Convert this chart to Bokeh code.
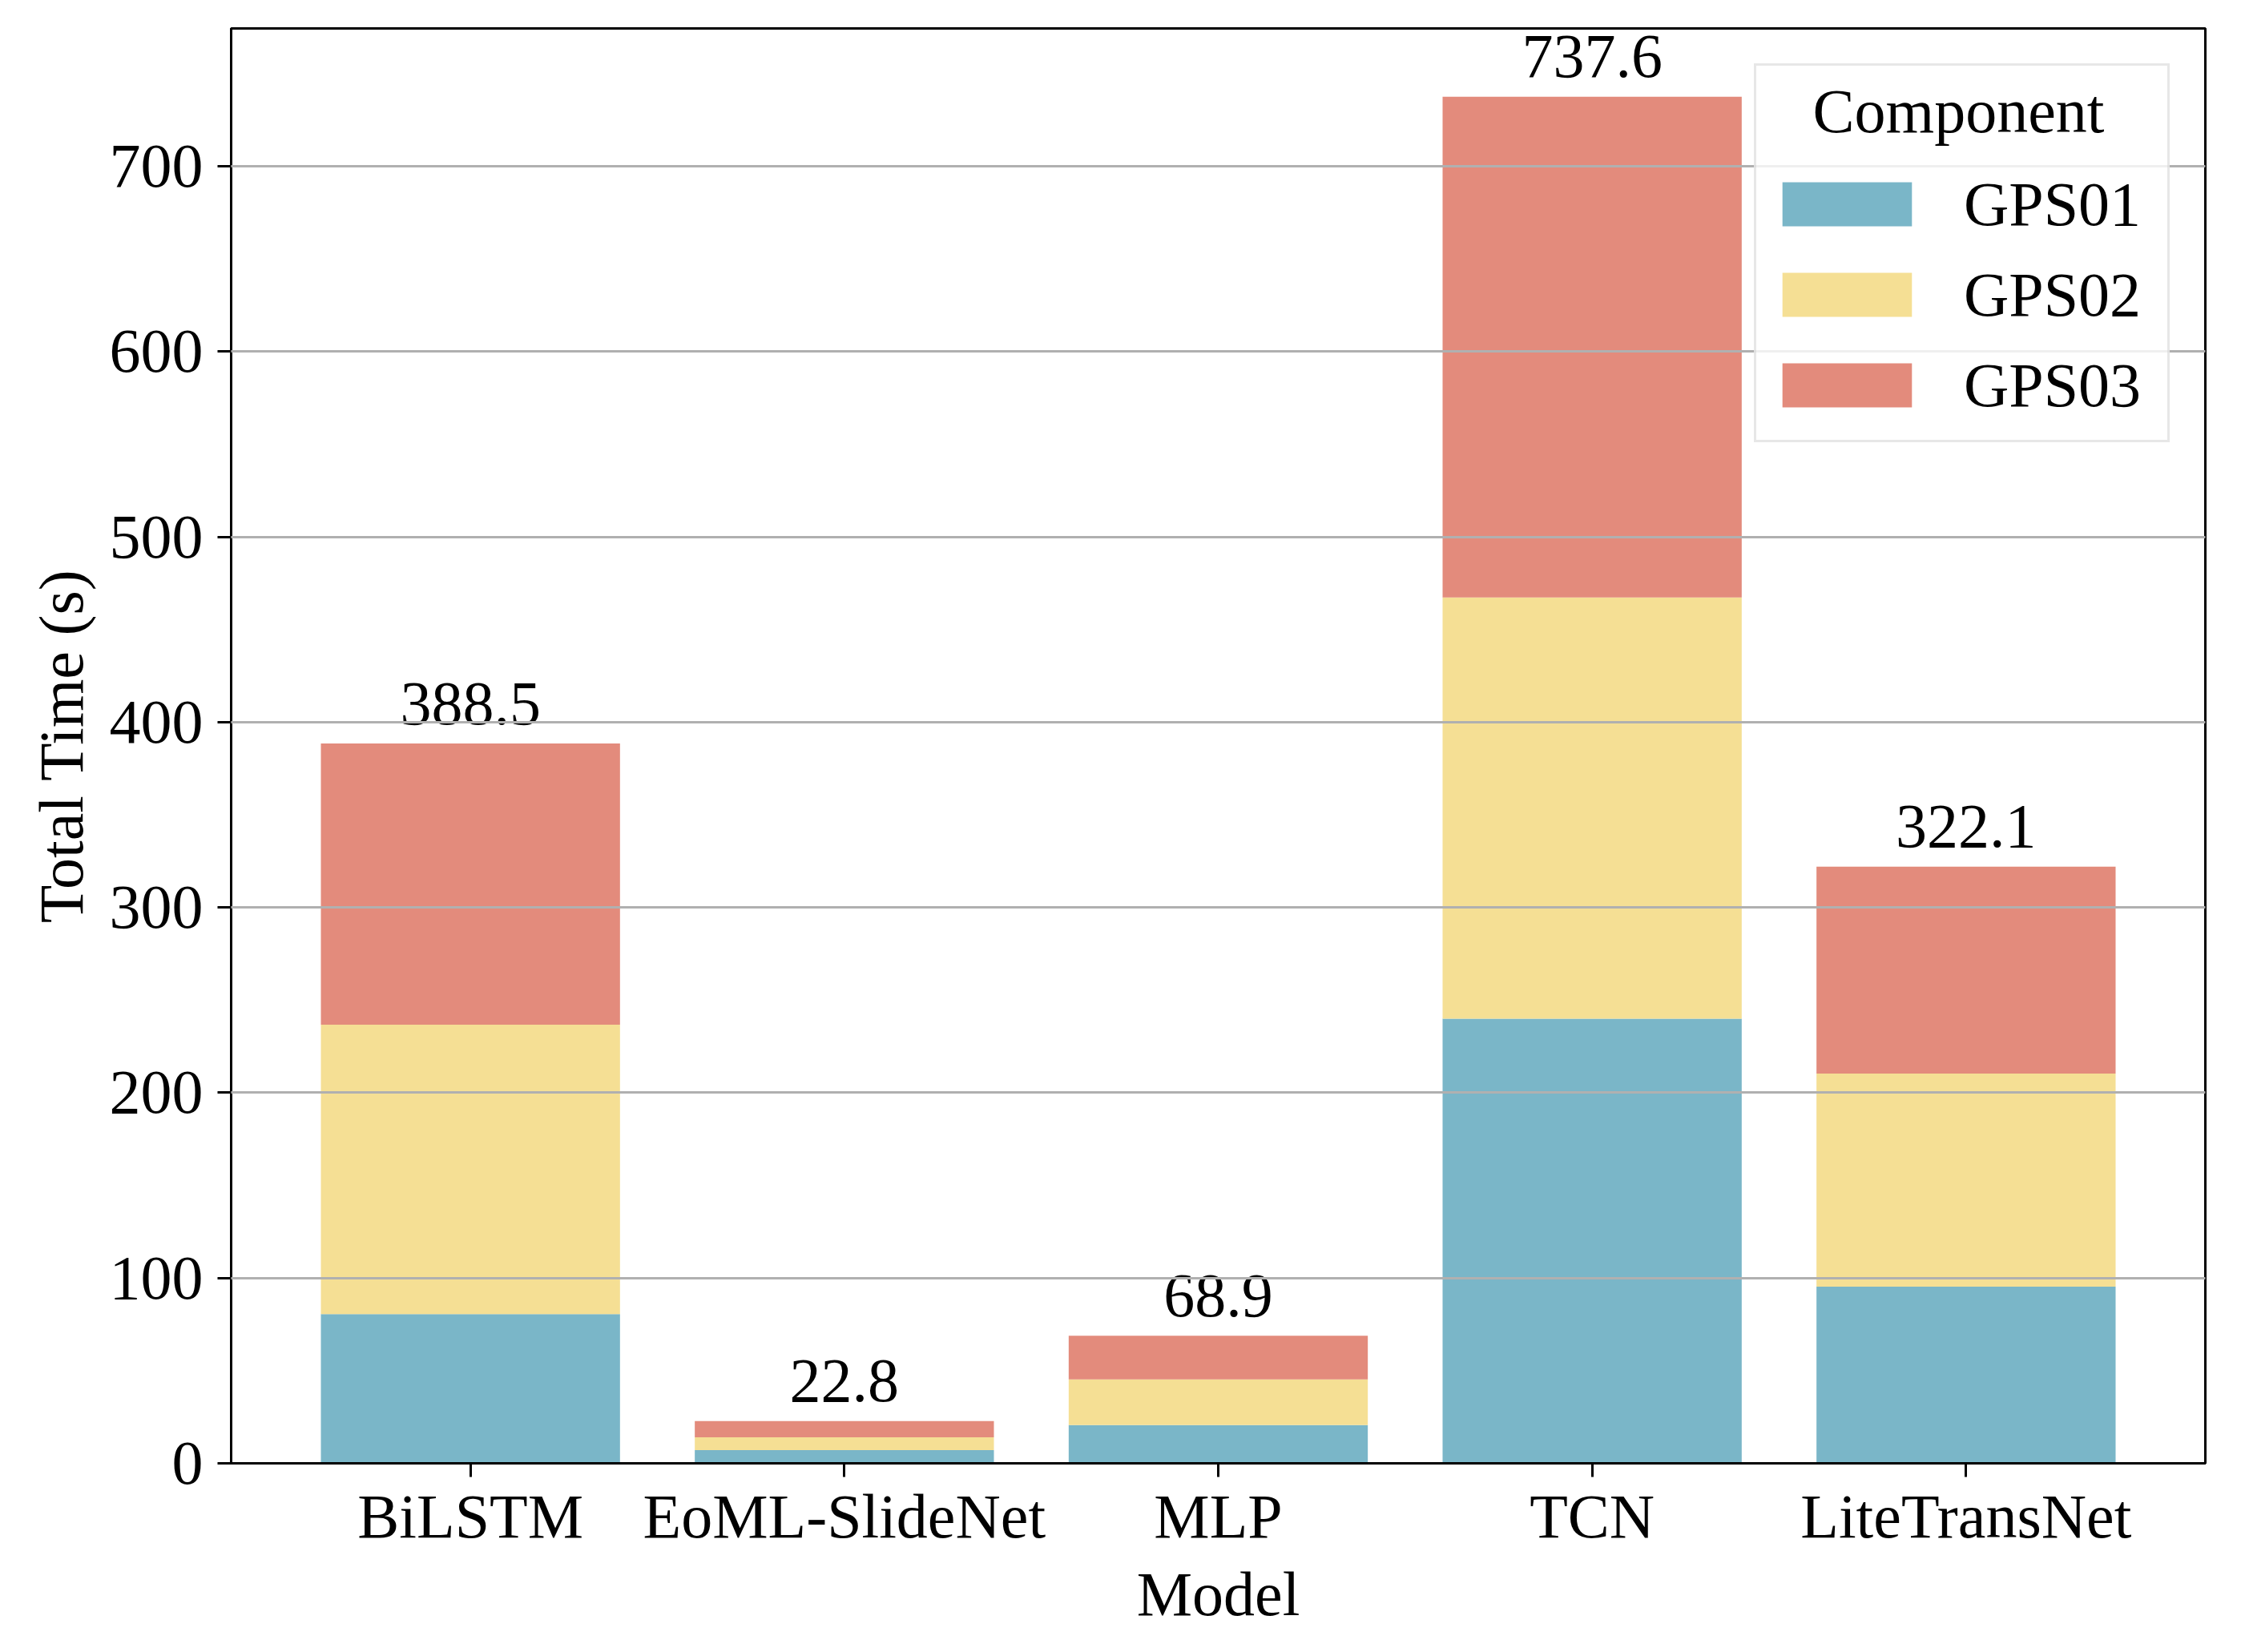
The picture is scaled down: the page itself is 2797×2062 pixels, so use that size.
from bokeh.plotting import figure
from bokeh.models import FactorRange, FixedTicker, ColumnDataSource
from bokeh.core.properties import value
from bokeh.embed import file_html
from bokeh.resources import INLINE

models = ["BiLSTM", "EoML-SlideNet", "MLP", "TCN", "LiteTransNet"]
components = ["GPS01", "GPS02", "GPS03"]
gps01 = [80.5, 7.1, 20.6, 240.0, 95.4]
gps02 = [156.3, 6.9, 24.7, 227.3, 115.0]
gps03 = [151.7, 8.8, 23.6, 270.3, 111.7]
colors = ["#7ab6c8", "#f5df94", "#e38b7c"]
y_ticks = [0, 100, 200, 300, 400, 500, 600, 700]

FONT = "Liberation Serif"
FS = "78px"

totals = [round(a + b + c, 1) for a, b, c in zip(gps01, gps02, gps03)]

src = ColumnDataSource(dict(model=models, GPS01=gps01, GPS02=gps02, GPS03=gps03,
                            total=totals, label=[f"{t:.1f}" for t in totals]))

xr = FactorRange(*models, range_padding=0.14, range_padding_units="absolute")
p = figure(x_range=xr, y_range=(0, max(totals) * 1.05),
           width=2781, height=2046, output_backend="svg", toolbar_location=None,
           min_border_left=288, min_border_right=29, min_border_top=35, min_border_bottom=220)

p.vbar_stack(components, x="model", width=0.8, color=colors, source=src,
             legend_label=components, line_width=0)

p.text(x="model", y="total", text="label", source=src, text_align="center",
       text_baseline="middle", y_offset=-50, text_font=value(FONT),
       text_font_size=value(FS), text_color="black")

p.outline_line_color = "black"
p.outline_line_width = 3
p.background_fill_color = "white"
p.border_fill_color = "white"

p.xgrid.visible = False
p.ygrid.grid_line_color = "#b0b0b0"
p.ygrid.grid_line_width = 3
p.ygrid.level = "guide"

for ax in (p.xaxis[0], p.yaxis[0]):
    ax.axis_line_color = "black"
    ax.axis_line_width = 3
    ax.major_tick_line_color = "black"
    ax.major_tick_line_width = 3
    ax.major_tick_out = 17
    ax.major_tick_in = 0
    ax.minor_tick_line_color = None
    ax.major_label_text_font = FONT
    ax.major_label_text_font_size = FS
    ax.major_label_text_color = "black"
    ax.axis_label_text_font = FONT
    ax.axis_label_text_font_size = FS
    ax.axis_label_text_font_style = "normal"
    ax.axis_label_text_color = "black"

p.yaxis.ticker = FixedTicker(ticks=y_ticks)
p.yaxis.axis_label = "Total Time (s)"
p.yaxis.major_label_standoff = 18
p.yaxis.axis_label_standoff = 14
p.xaxis.axis_label = "Model"
p.xaxis.major_label_standoff = 5
p.xaxis.axis_label_standoff = 7

lg = p.legend[0]
lg.title = "\u00a0\u00a0\u00a0Component"
lg.title_text_font = FONT
lg.title_text_font_size = FS
lg.title_text_font_style = "normal"
lg.title_text_color = "black"
lg.title_standoff = 14
lg.label_text_font = FONT
lg.label_text_font_size = FS
lg.label_text_color = "black"
lg.location = "top_right"
lg.margin = 44
lg.padding = 12
lg.spacing = 0
lg.glyph_width = 202
lg.glyph_height = 69
lg.label_standoff = 45
lg.label_width = 242
lg.label_height = 113
lg.background_fill_color = "white"
lg.background_fill_alpha = 0.8
lg.border_line_color = "#d0d0d0"
lg.border_line_width = 3

open("out.html", "w").write(file_html(p, INLINE))
